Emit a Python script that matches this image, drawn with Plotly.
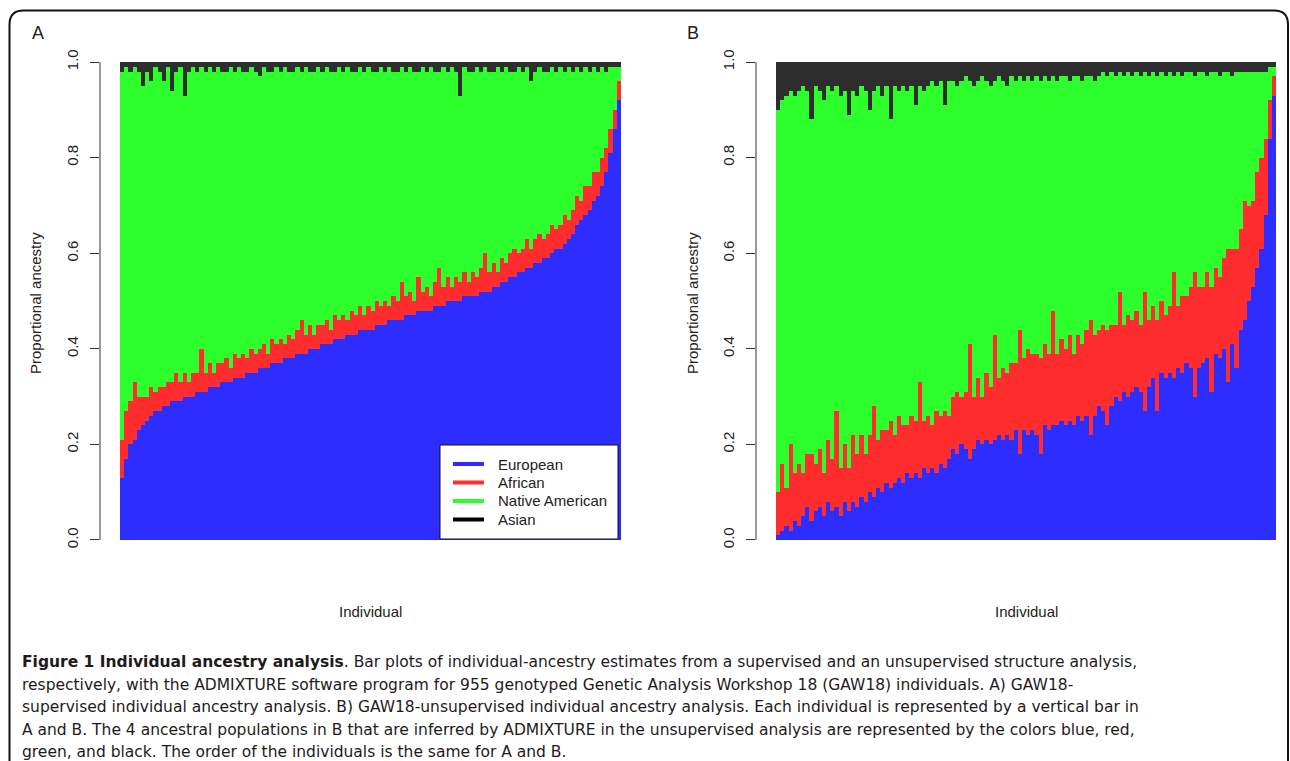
import plotly.graph_objects as go

# ---------------- data (percent of ancestry per individual group) ----------------
individuals = list(range(1, 121))

series_names = ["European", "African", "Native American", "Asian"]
series_colors = ["#2d2dff", "#ff2d2d", "#2dff2d", "#2d2d2d"]

tick_vals = [0, 20, 40, 60, 80, 100]
tick_text = ["0.0", "0.2", "0.4", "0.6", "0.8", "1.0"]

# Panel A: supervised
a_european = [13, 17, 20, 21, 23, 24, 25, 26, 27, 27,
              28, 28, 29, 29, 29, 30, 30, 30, 31, 31,
              31, 32, 32, 32, 33, 33, 33, 34, 34, 34,
              35, 35, 35, 36, 36, 36, 37, 37, 37, 38,
              38, 38, 39, 39, 39, 40, 40, 40, 41, 41,
              41, 42, 42, 42, 43, 43, 43, 44, 44, 44,
              44, 45, 45, 45, 46, 46, 46, 46, 47, 47,
              47, 48, 48, 48, 48, 49, 49, 49, 50, 50,
              50, 50, 51, 51, 51, 51, 52, 52, 52, 53,
              53, 54, 54, 55, 55, 56, 56, 57, 57, 58,
              58, 59, 59, 60, 61, 61, 62, 63, 64, 66,
              67, 68, 69, 71, 72, 74, 77, 81, 86, 92]
a_african = [8, 10, 9, 12, 7, 6, 5, 6, 4, 5,
             4, 5, 4, 6, 4, 5, 3, 5, 4, 9,
             4, 5, 3, 5, 4, 5, 3, 5, 4, 5,
             3, 5, 4, 4, 5, 3, 5, 4, 5, 3,
             5, 4, 5, 7, 4, 5, 3, 5, 4, 5,
             3, 5, 4, 5, 3, 5, 4, 5, 3, 5,
             4, 5, 4, 5, 3, 5, 4, 8, 4, 5,
             3, 7, 4, 5, 3, 5, 8, 4, 5, 3,
             5, 4, 5, 3, 5, 4, 5, 8, 4, 5,
             3, 5, 4, 5, 6, 4, 5, 6, 4, 5,
             6, 4, 5, 6, 4, 5, 6, 4, 5, 6,
             4, 6, 5, 6, 5, 6, 5, 5, 4, 4]
a_native = [77, 72, 69, 66, 68, 65, 68, 64, 68, 66,
            64, 66, 61, 63, 66, 58, 65, 64, 63, 59,
            63, 62, 63, 62, 61, 60, 63, 59, 61, 59,
            60, 59, 59, 57, 58, 59, 56, 58, 56, 58,
            55, 56, 55, 52, 56, 53, 55, 54, 53, 53,
            54, 51, 53, 51, 53, 50, 51, 50, 51, 50,
            50, 48, 50, 48, 50, 47, 48, 45, 47, 47,
            48, 43, 47, 45, 48, 44, 41, 46, 43, 46,
            43, 39, 43, 44, 42, 44, 41, 39, 42, 40,
            43, 39, 41, 38, 37, 39, 37, 36, 35, 35,
            35, 35, 34, 33, 33, 33, 30, 32, 29, 27,
            27, 25, 24, 22, 21, 19, 16, 13, 9, 3]
a_asian = [2, 1, 2, 1, 2, 5, 2, 4, 1, 2,
           4, 1, 6, 2, 1, 7, 2, 1, 2, 1,
           2, 1, 2, 1, 2, 2, 1, 2, 1, 2,
           2, 1, 2, 3, 1, 2, 2, 1, 2, 1,
           2, 2, 1, 2, 1, 2, 2, 1, 2, 1,
           2, 2, 1, 2, 1, 2, 2, 1, 2, 1,
           2, 2, 1, 2, 1, 2, 2, 1, 2, 1,
           2, 2, 1, 2, 1, 2, 2, 1, 2, 1,
           2, 7, 1, 2, 2, 1, 2, 1, 2, 2,
           1, 2, 1, 2, 2, 1, 2, 1, 4, 2,
           1, 2, 2, 1, 2, 1, 2, 1, 2, 1,
           2, 1, 2, 1, 2, 1, 2, 1, 1, 1]

# Panel B: unsupervised
b_european = [1, 2, 3, 2, 4, 3, 5, 7, 4, 6,
              7, 5, 8, 6, 7, 5, 8, 6, 8, 7,
              9, 8, 10, 9, 11, 10, 12, 11, 12, 13,
              12, 14, 13, 14, 13, 15, 14, 15, 14, 16,
              15, 17, 19, 18, 20, 19, 17, 19, 21, 20,
              21, 20, 21, 22, 21, 22, 21, 23, 18, 23,
              22, 23, 22, 18, 24, 23, 24, 24, 25, 24,
              25, 24, 26, 25, 26, 22, 26, 28, 27, 24,
              28, 30, 29, 31, 30, 31, 32, 31, 27, 32,
              34, 27, 35, 34, 35, 34, 36, 35, 37, 36,
              30, 36, 37, 38, 31, 39, 38, 40, 33, 41,
              36, 44, 46, 50, 53, 57, 61, 68, 84, 93]
b_african = [9, 14, 8, 18, 10, 13, 9, 11, 14, 10,
             12, 9, 13, 11, 20, 10, 12, 9, 14, 11,
             13, 10, 12, 19, 10, 13, 11, 14, 10, 13,
             12, 10, 13, 11, 20, 10, 12, 9, 13, 10,
             12, 9, 11, 13, 10, 12, 24, 11, 13, 10,
             14, 12, 22, 12, 15, 13, 16, 14, 26, 15,
             18, 16, 17, 20, 17, 16, 24, 15, 17, 16,
             18, 15, 17, 16, 18, 24, 17, 16, 18, 20,
             17, 15, 23, 14, 17, 15, 16, 14, 25, 14,
             15, 19, 15, 13, 14, 22, 13, 16, 14, 17,
             26, 17, 16, 18, 22, 18, 17, 19, 28, 20,
             25, 21, 25, 20, 18, 20, 19, 16, 8, 4]
b_native = [80, 76, 82, 74, 79, 78, 81, 76, 70, 79,
            75, 78, 74, 77, 68, 78, 74, 74, 72, 75,
            73, 76, 68, 66, 74, 70, 72, 63, 73, 68,
            71, 70, 69, 66, 62, 69, 69, 72, 68, 70,
            64, 70, 66, 64, 66, 66, 55, 65, 62, 67,
            61, 63, 53, 63, 60, 60, 60, 59, 53, 58,
            57, 57, 58, 58, 56, 57, 49, 57, 55, 57,
            53, 58, 54, 55, 53, 51, 53, 53, 53, 53,
            53, 52, 46, 52, 51, 51, 50, 52, 46, 51,
            49, 51, 48, 50, 49, 41, 49, 46, 47, 45,
            41, 45, 45, 41, 45, 41, 42, 39, 37, 36,
            37, 33, 27, 28, 27, 21, 18, 14, 7, 2]
b_asian = [10, 8, 7, 6, 7, 6, 5, 6, 12, 5,
           6, 8, 5, 6, 5, 7, 6, 11, 6, 7,
           5, 6, 10, 6, 5, 7, 5, 12, 5, 6,
           5, 6, 5, 9, 5, 6, 5, 4, 5, 4,
           9, 4, 4, 5, 4, 3, 4, 5, 4, 3,
           4, 5, 4, 3, 4, 5, 3, 4, 3, 4,
           3, 4, 3, 4, 3, 4, 3, 4, 3, 3,
           4, 3, 3, 4, 3, 3, 4, 3, 2, 3,
           2, 3, 2, 3, 2, 3, 2, 3, 2, 3,
           2, 3, 2, 3, 2, 3, 2, 3, 2, 2,
           3, 2, 2, 3, 2, 2, 3, 2, 2, 3,
           2, 2, 2, 2, 2, 2, 2, 2, 1, 1]

caption_lines = [
    "<b>Figure 1 Individual ancestry analysis</b>. Bar plots of individual-ancestry estimates from a supervised and an unsupervised structure analysis,",
    "respectively, with the ADMIXTURE software program for 955 genotyped Genetic Analysis Workshop 18 (GAW18) individuals. A) GAW18-",
    "supervised individual ancestry analysis. B) GAW18-unsupervised individual ancestry analysis. Each individual is represented by a vertical bar in",
    "A and B. The 4 ancestral populations in B that are inferred by ADMIXTURE in the unsupervised analysis are represented by the colors blue, red,",
    "green, and black. The order of the individuals is the same for A and B.",
]

for name, rows in (("A", (a_european, a_african, a_native, a_asian)),
                   ("B", (b_european, b_african, b_native, b_asian))):
    bad = [i for i in range(len(individuals)) if sum(r[i] for r in rows) != 100]
    assert not bad, f"panel {name} rows not summing to 100: {bad}"

# ---------------- figure ----------------
W, H = 1290, 761
def px(x):
    return x / W
def py(y):
    return 1 - y / H

fig = go.Figure()
panels = [("x", "y", (a_european, a_african, a_native, a_asian)),
          ("x2", "y2", (b_european, b_african, b_native, b_asian))]
for xa, ya, vals in panels:
    for nm, col, v in zip(series_names, series_colors, vals):
        fig.add_trace(go.Bar(x=individuals, y=v, name=nm, xaxis=xa, yaxis=ya,
                             marker=dict(color=col, line=dict(width=0)),
                             showlegend=False, hovertemplate=nm + ": %{y}%<extra></extra>"))

y_dom = [py(559.1), py(42.9)]
axis_font = dict(family="Liberation Sans, Arial, sans-serif", size=15, color="#222222")
yaxis_common = dict(domain=y_dom, range=[-4, 104], tickvals=tick_vals, ticktext=tick_text,
                    ticks="outside", ticklen=9, tickwidth=1, tickcolor="#333333",
                    tickangle=-90, tickfont=axis_font, showline=False, showgrid=False,
                    zeroline=False, ticklabelstandoff=6)
xaxis_common = dict(showticklabels=False, showline=False, showgrid=False, zeroline=False,
                    ticks="")

fig.update_layout(
    width=W, height=H,
    margin=dict(l=0, r=0, t=0, b=0, pad=0),
    paper_bgcolor="white", plot_bgcolor="white",
    barmode="stack", bargap=0,
    xaxis=dict(domain=[px(100), px(641)], range=[-4.3, 125.3], anchor="y", **xaxis_common),
    yaxis=dict(anchor="x", **yaxis_common),
    xaxis2=dict(domain=[px(756), 1.0], range=[-4.3, 123.86], anchor="y2", **xaxis_common),
    yaxis2=dict(anchor="x2", **yaxis_common),
)

shapes = []
# R-style y axis lines spanning 0..1 only
for xd, ya in (("x domain", "y"), ("x2 domain", "y2")):
    shapes.append(dict(type="line", xref=xd, yref=ya, x0=0, x1=0, y0=0, y1=100,
                       line=dict(color="#333333", width=1)))

# rounded frame around the figure
x0, x1 = px(9.5), px(1288)
yt, yb = py(10.5), -0.05
dx, dy = 14 / W, 14 / H
frame = (f"M {x0},{yb} L {x0},{yt - dy} Q {x0},{yt} {x0 + dx},{yt} "
         f"L {x1 - dx},{yt} Q {x1},{yt} {x1},{yt - dy} L {x1},{yb}")
shapes.append(dict(type="path", xref="paper", yref="paper", path=frame,
                   line=dict(color="#111111", width=2)))

# legend box (panel A)
shapes.append(dict(type="rect", xref="paper", yref="paper", x0=px(440), x1=px(618),
                   y0=py(539), y1=py(445), line=dict(color="#111111", width=1),
                   fillcolor="white", layer="above"))
legend_rows = [464, 482.5, 501, 519.5]
annotations = []
for nm, col, yr in zip(series_names, series_colors, legend_rows):
    shapes.append(dict(type="line", xref="paper", yref="paper", x0=px(453), x1=px(484),
                       y0=py(yr), y1=py(yr), line=dict(color=col if nm != "Asian" else "#000000", width=4)))
    annotations.append(dict(x=px(496), y=py(yr), xref="paper", yref="paper", text=nm,
                            showarrow=False, xanchor="left", yanchor="middle",
                            font=dict(family="Liberation Sans, Arial, sans-serif", size=15, color="#222222")))

label_font = dict(family="Liberation Sans, Arial, sans-serif", size=15, color="#222222")
for letter, lx, ytx, indx in (("A", 38, 35, 370), ("B", 693, 692, 1026)):
    annotations.append(dict(x=px(lx), y=py(33), xref="paper", yref="paper", text=letter,
                            showarrow=False, xanchor="center", yanchor="middle",
                            font=dict(family="Liberation Sans, Arial, sans-serif", size=18, color="#222222")))
    annotations.append(dict(x=px(ytx), y=py(303), xref="paper", yref="paper",
                            text="Proportional ancestry", textangle=-90, showarrow=False,
                            xanchor="center", yanchor="middle", font=label_font))
    annotations.append(dict(x=px(indx), y=py(611), xref="paper", yref="paper", text="Individual",
                            showarrow=False, xanchor="center", yanchor="middle", font=label_font))

cap_font = dict(family="DejaVu Sans, sans-serif", size=15.5, color="#1e1a1b")
for line, yc in zip(caption_lines, [662, 684.5, 707, 729.5, 751.5]):
    annotations.append(dict(x=px(21), y=py(yc), xref="paper", yref="paper", text=line,
                            showarrow=False, xanchor="left", yanchor="middle", align="left",
                            font=cap_font, borderpad=0))

fig.update_layout(shapes=shapes, annotations=annotations)

fig.write_html("out.html", config={"displayModeBar": False},
               post_script="document.body.style.margin='0';document.body.style.overflow='hidden';")
